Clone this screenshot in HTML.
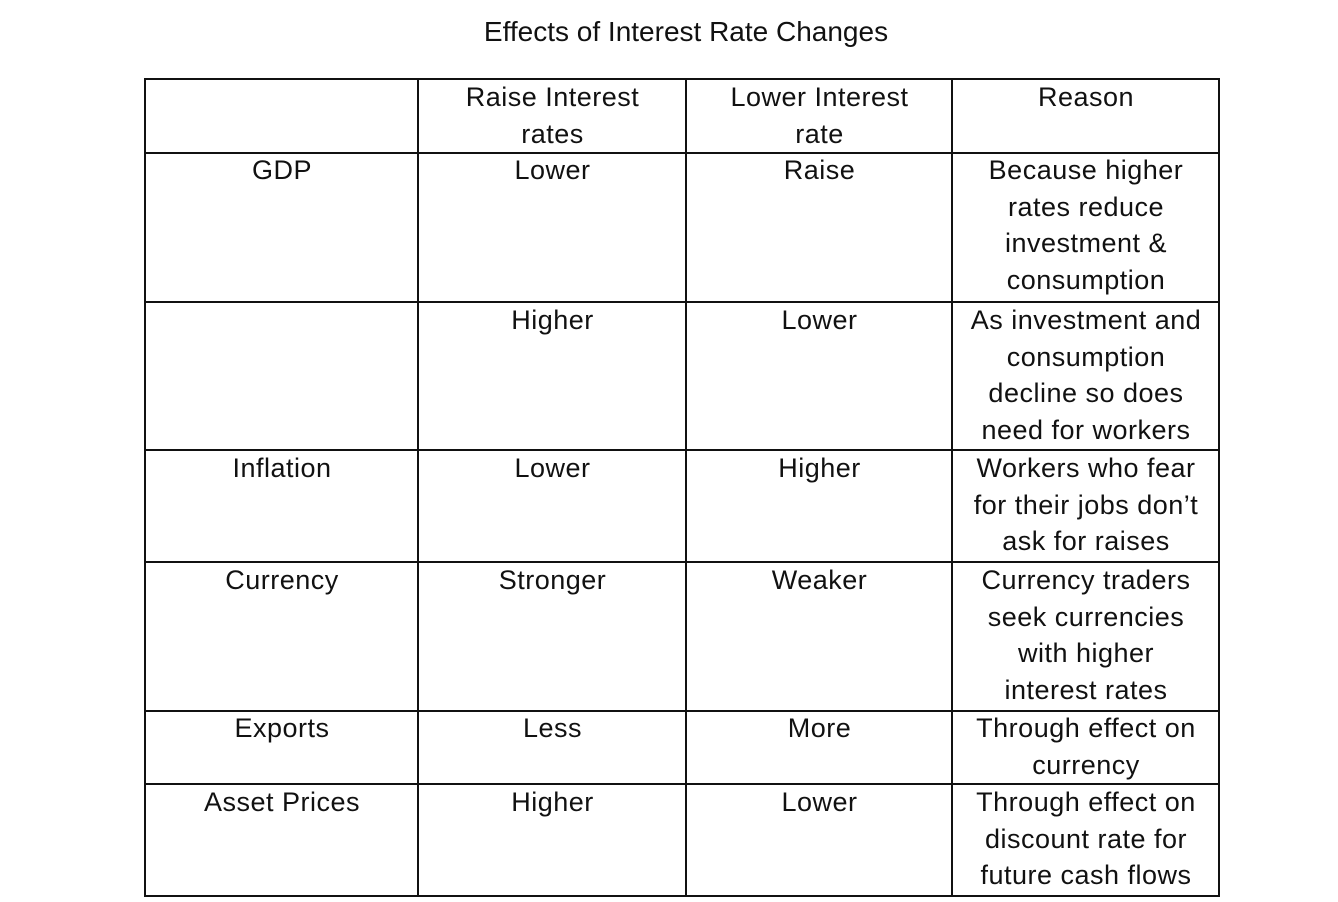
<!DOCTYPE html>
<html><head><meta charset="utf-8"><style>
body{margin:0;width:1338px;height:902px;background:#fff;font-family:"Liberation Sans",sans-serif;color:#111;position:relative;overflow:hidden}
.t{position:absolute;left:0;width:1372px;top:14px;text-align:center;font-size:28px;line-height:36px}
.l{position:absolute;background:#111}
.c{position:absolute;text-align:center;font-size:27px;letter-spacing:0.5px;line-height:36.5px;white-space:nowrap}
</style></head><body>
<div class="t">Effects of Interest Rate Changes</div>
<div>
<div class="l" style="left:144px;top:78px;width:1076px;height:2px"></div>
<div class="l" style="left:144px;top:152px;width:1076px;height:2px"></div>
<div class="l" style="left:144px;top:301px;width:1076px;height:2px"></div>
<div class="l" style="left:144px;top:449px;width:1076px;height:2px"></div>
<div class="l" style="left:144px;top:561px;width:1076px;height:2px"></div>
<div class="l" style="left:144px;top:710px;width:1076px;height:2px"></div>
<div class="l" style="left:144px;top:783px;width:1076px;height:2px"></div>
<div class="l" style="left:144px;top:895px;width:1076px;height:2px"></div>
<div class="l" style="left:144px;top:78px;width:2px;height:819px"></div>
<div class="l" style="left:417px;top:78px;width:2px;height:819px"></div>
<div class="l" style="left:685px;top:78px;width:2px;height:819px"></div>
<div class="l" style="left:951px;top:78px;width:2px;height:819px"></div>
<div class="l" style="left:1218px;top:78px;width:2px;height:819px"></div>

<div class="c" style="left:419px;width:267px;top:79px">Raise Interest<br>rates</div>
<div class="c" style="left:687px;width:265px;top:79px">Lower Interest<br>rate</div>
<div class="c" style="left:953px;width:266px;top:79px">Reason</div>

<div class="c" style="left:146px;width:272px;top:152px">GDP</div>
<div class="c" style="left:419px;width:267px;top:152px">Lower</div>
<div class="c" style="left:687px;width:265px;top:152px">Raise</div>
<div class="c" style="left:953px;width:266px;top:152px">Because higher<br>rates reduce<br>investment &amp;<br>consumption</div>

<div class="c" style="left:419px;width:267px;top:302px">Higher</div>
<div class="c" style="left:687px;width:265px;top:302px">Lower</div>
<div class="c" style="left:953px;width:266px;top:302px">As investment and<br>consumption<br>decline so does<br>need for workers</div>

<div class="c" style="left:146px;width:272px;top:450px">Inflation</div>
<div class="c" style="left:419px;width:267px;top:450px">Lower</div>
<div class="c" style="left:687px;width:265px;top:450px">Higher</div>
<div class="c" style="left:953px;width:266px;top:450px">Workers who fear<br>for their jobs don’t<br>ask for raises</div>

<div class="c" style="left:146px;width:272px;top:562px">Currency</div>
<div class="c" style="left:419px;width:267px;top:562px">Stronger</div>
<div class="c" style="left:687px;width:265px;top:562px">Weaker</div>
<div class="c" style="left:953px;width:266px;top:562px">Currency traders<br>seek currencies<br>with higher<br>interest rates</div>

<div class="c" style="left:146px;width:272px;top:710px">Exports</div>
<div class="c" style="left:419px;width:267px;top:710px">Less</div>
<div class="c" style="left:687px;width:265px;top:710px">More</div>
<div class="c" style="left:953px;width:266px;top:710px">Through effect on<br>currency</div>

<div class="c" style="left:146px;width:272px;top:784px">Asset Prices</div>
<div class="c" style="left:419px;width:267px;top:784px">Higher</div>
<div class="c" style="left:687px;width:265px;top:784px">Lower</div>
<div class="c" style="left:953px;width:266px;top:784px">Through effect on<br>discount rate for<br>future cash flows</div>
</div>
</body></html>
